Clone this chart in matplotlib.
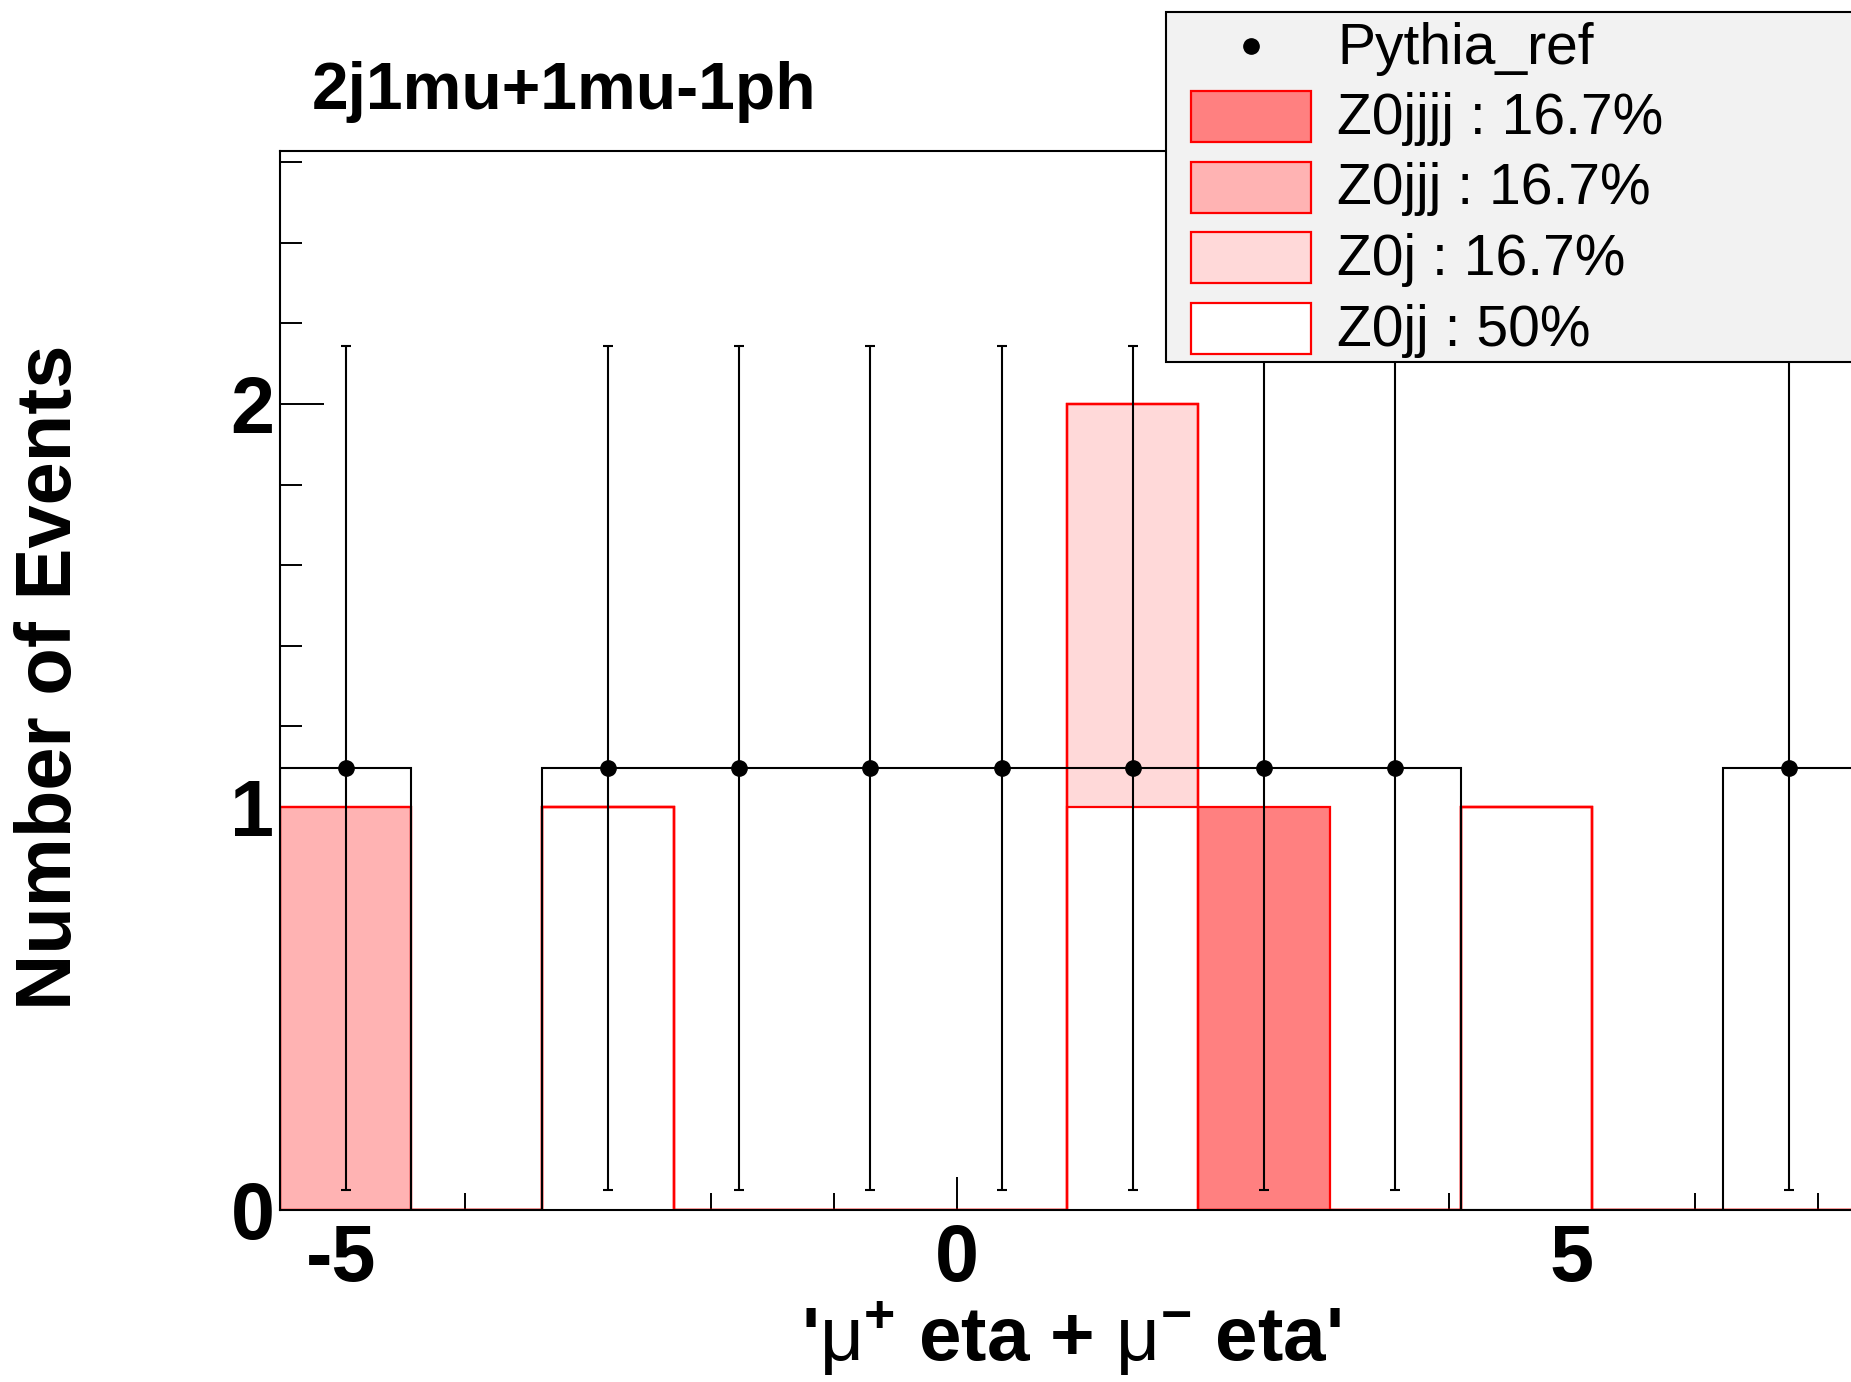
import numpy as np
import matplotlib
matplotlib.use("Agg")
import matplotlib.pyplot as plt
from matplotlib.patches import Rectangle
from matplotlib.lines import Line2D
from matplotlib.ticker import MultipleLocator, FixedLocator

# ---------------- data ----------------
bin_lo, bin_hi, n_bins = -5.5, 10.5, 15
z0jj   = [0, 0, 1, 0, 0, 0, 1, 0, 0, 1, 0, 0, 0, 0, 0]
z0j    = [0, 0, 0, 0, 0, 0, 1, 0, 0, 0, 0, 0, 0, 0, 0]
z0jjj  = [1, 0, 0, 0, 0, 0, 0, 0, 0, 0, 0, 0, 0, 0, 0]
z0jjjj = [0, 0, 0, 0, 0, 0, 0, 1, 0, 0, 0, 0, 0, 0, 0]
pythia = [1.096, 0, 1.096, 1.096, 1.096, 1.096, 1.096, 1.096, 1.096, 0, 0, 1.096, 0, 0, 0]
pythia_err = [1.047, 0, 1.047, 1.047, 1.047, 1.047, 1.047, 1.047, 1.047, 0, 0, 1.047, 0, 0, 0]

x_major_ticks = [-5, 0, 5]
stack_names  = ["Z0jj", "Z0j", "Z0jjj", "Z0jjjj"]          # bottom -> top
stack_colors = ["#ffffff", "#ffd9d9", "#ffb3b3", "#ff8080"]
legend_labels = ["Pythia_ref", "Z0jjjj : 16.7%", "Z0jjj : 16.7%", "Z0j : 16.7%", "Z0jj : 50%"]
title = "2j1mu+1mu-1ph"
xlabel = r"'$\mu^{\mathbf{+}}$ eta + $\mu^{\mathbf{-}}$ eta'"
ylabel = "Number of Events"

# ---------------- style ----------------
plt.rcParams["font.family"] = ["Liberation Sans", "DejaVu Sans"]
plt.rcParams["axes.unicode_minus"] = False
plt.rcParams["mathtext.fontset"] = "custom"
plt.rcParams["mathtext.rm"] = "Liberation Sans"
plt.rcParams["mathtext.it"] = "Liberation Sans:italic"
plt.rcParams["mathtext.bf"] = "Liberation Sans:bold"
plt.rcParams["mathtext.default"] = "rm"

W, H = 1851, 1382
fig = plt.figure(figsize=(W / 100, H / 100), dpi=100)

def fx(px):
    return px / W

def fy(py):
    return 1 - py / H

ax_left, ax_bottom, ax_top = 280, 1210, 151
unit = 123.0
ax = fig.add_axes([fx(ax_left), fy(ax_bottom), (bin_hi - bin_lo) * unit / W, (ax_bottom - ax_top) / H])

edges = np.linspace(bin_lo, bin_hi, n_bins + 1)
centers = 0.5 * (edges[:-1] + edges[1:])

# stacked histograms (drawn ROOT style: cumulative from top down)
layers = [np.array(z0jj, float), np.array(z0j, float), np.array(z0jjj, float), np.array(z0jjjj, float)]
cum = np.cumsum(layers, axis=0)
for i in range(len(layers) - 1, -1, -1):
    ax.stairs(cum[i], edges, baseline=0, fill=True, facecolor=stack_colors[i],
              edgecolor="none", zorder=2)
    ax.stairs(cum[i], edges, baseline=0, fill=False, color="#ff0000", lw=1.6, zorder=2.1)

# Pythia reference outline
py = np.array(pythia)
pe = np.array(pythia_err)
ax.stairs(py, edges, baseline=0, fill=False, color="black", lw=1.5, zorder=3)
mask = py > 0
ax.errorbar(centers[mask], py[mask], yerr=pe[mask], fmt="o", color="black", ms=11,
            elinewidth=1.5, capsize=3.6, capthick=1.5, zorder=4)

ax.set_xlim(bin_lo, bin_hi)
ax.set_ylim(0, 2.628)

ax.xaxis.set_major_locator(FixedLocator(x_major_ticks))
ax.xaxis.set_minor_locator(MultipleLocator(1))
ax.yaxis.set_major_locator(MultipleLocator(1))
ax.yaxis.set_minor_locator(MultipleLocator(0.2))
ax.tick_params(axis="both", which="both", direction="in", top=False, right=False, width=1.4)
ax.tick_params(axis="y", which="major", length=32, pad=4)
ax.tick_params(axis="y", which="minor", length=16)
ax.tick_params(axis="x", which="major", length=24, pad=9)
ax.tick_params(axis="x", which="minor", length=12)
for lab in ax.get_xticklabels() + ax.get_yticklabels():
    lab.set_fontsize(57)
    lab.set_fontweight("bold")
for sp in ax.spines.values():
    sp.set_linewidth(1.5)

ax.set_xlabel(xlabel, fontsize=55, fontweight="bold")
ax.xaxis.set_label_coords(fx(1071), fy(1361), transform=fig.transFigure)
ax.xaxis.label.set_va("baseline")
ax.set_ylabel(ylabel, fontsize=56, fontweight="bold")
ax.yaxis.set_label_coords(fx(51), fy(677), transform=fig.transFigure)
ax.yaxis.label.set_va("center")

fig.text(fx(312), fy(109), title, fontsize=47.5, fontweight="bold", va="baseline", ha="left")

# ---------------- legend (clipped at right edge like the reference) ----------------
leg_box = Rectangle((fx(1166), fy(362)), fx(2100 - 1166), (362 - 12) / H, transform=fig.transFigure,
                    facecolor="#f2f2f2", edgecolor="black", lw=1.5, zorder=10)
fig.add_artist(leg_box)
baselines = [64, 134, 204, 275, 346]
fig.add_artist(Line2D([fx(1251)], [fy(46)], marker="o", ms=11, color="black",
                      transform=fig.transFigure, zorder=11))
sw_tops = [91, 162, 232, 303]
legend_colors = stack_colors[::-1]
for k in range(4):
    r = Rectangle((fx(1191), fy(sw_tops[k] + 51)), fx(1311 - 1191), 51 / H, transform=fig.transFigure,
                  facecolor=legend_colors[k], edgecolor="#ff0000", lw=1.6, zorder=11)
    fig.add_artist(r)
for k, lab in enumerate(legend_labels):
    fig.text(fx(1337), fy(baselines[k]), lab, fontsize=41, va="baseline", ha="left", zorder=12)

fig.savefig("out.png", dpi=100)
